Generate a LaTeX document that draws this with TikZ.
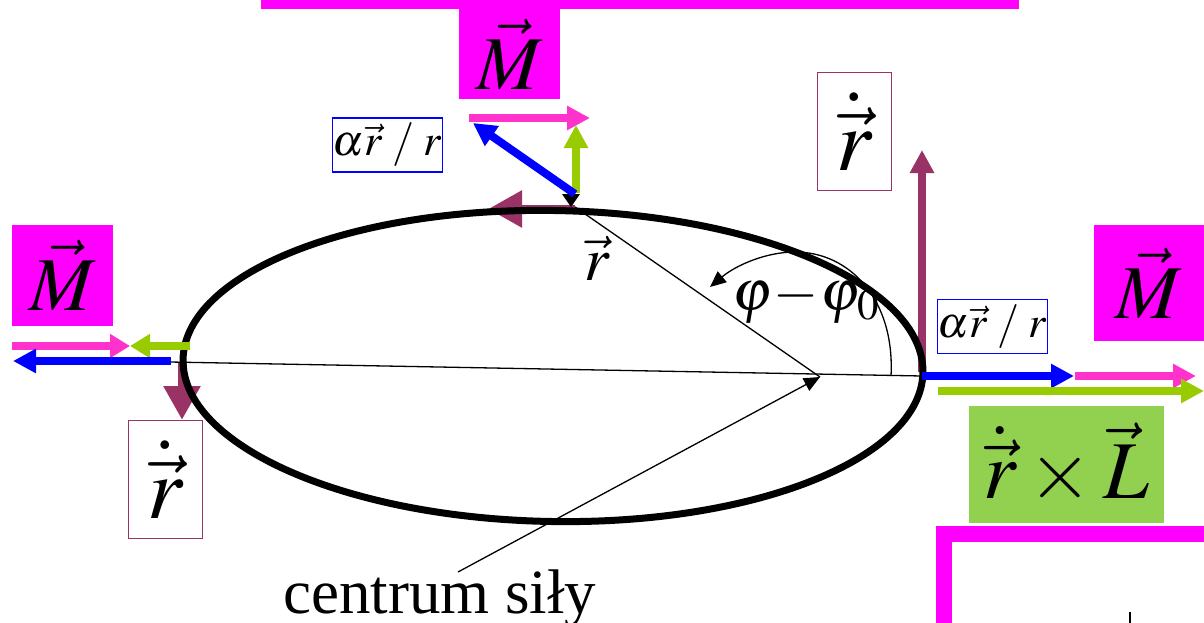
\documentclass[tikz,border=0pt]{standalone}
\usepackage{mathptmx}
\usepackage{fontspec}
\setmainfont{Liberation Serif}
\usetikzlibrary{arrows.meta}
\definecolor{mag}{HTML}{FF00FF}
\definecolor{pinkA}{HTML}{FF33CC}
\definecolor{greenA}{HTML}{99CC00}
\definecolor{maroonA}{HTML}{993366}
\definecolor{blueA}{HTML}{0000FF}
\definecolor{greenBox}{HTML}{92D050}
\tikzset{
  vecarr/.style={line width=8pt, -{Triangle[length=23pt,width=23pt]}},
  bigarr/.style={line width=9pt, -{Triangle[length=34pt,width=35pt]}},
  thinline/.style={line width=1.3pt},
  pointer/.style={line width=1.3pt, -{Triangle[length=16pt,width=14pt]}},
  magbox/.style={fill=mag, inner sep=0pt, font=\fontsize{76}{80}\selectfont},
  rbox/.style={draw=maroonA, line width=1.5pt, fill=white, inner sep=0pt,
    minimum width=74pt, minimum height=118pt, font=\fontsize{88}{90}\selectfont},
  abox/.style={draw=blueA, line width=1.5pt, fill=white, inner sep=0pt,
    minimum width=110pt, minimum height=54pt, font=\fontsize{44}{46}\selectfont},
}
\begin{document}
\begin{tikzpicture}[x=1pt,y=-1pt]
\useasboundingbox (0,0) rectangle (1204,623);

% magenta frames
\fill[mag] (261,-2) rectangle (1019,9);
\fill[mag] (936,526) rectangle (1210,542);
\fill[mag] (936,526) rectangle (952,630);
\draw[line width=2pt] (1130,612) -- (1130,625);

% key points
\coordinate (O) at (820,377);
\coordinate (T) at (575,207);
\coordinate (Lp) at (182,362);
\coordinate (Rp) at (922,376);

% boxes
\node[magbox, minimum width=101pt, minimum height=90pt] (Mtop) at (509.5,54) {$\vec{M}$};
\node[magbox, minimum width=101pt, minimum height=101pt] (Mleft) at (62.5,275.5) {$\vec{M}$};
\node[magbox, minimum width=110pt, minimum height=116pt] (Mright) at (1149,283) {$\vec{M}$};
\node[rbox] (rdL) at (165.5,479.5) {$\dot{\vec{r}}$};
\node[rbox] (rdR) at (854.5,131.5) {$\dot{\vec{r}}$};
\node[abox] (aT) at (387.5,145) {$\alpha\vec{r}\;/\;r$};
\node[abox] (aR) at (992.5,326.5) {$\alpha\vec{r}\;/\;r$};
\node[fill=greenBox, inner sep=0pt, minimum width=195pt, minimum height=117pt,
  font=\fontsize{82}{84}\selectfont] (rxL) at (1066.5,464.5) {$\dot{\vec{r}}\times\vec{L}$};

% maroon velocity arrows (under the orbit)
\coordinate (Tm) at (488,209);
\coordinate (Lm) at (182,420);
\coordinate (Rm) at (922,150);
\draw[bigarr, maroonA] (T |- Tm) -- (Tm);
\draw[bigarr, maroonA] (Lp) -- (Lm);
\draw[vecarr, maroonA] (922,372) -- (Rm);

% orbit
\draw[line width=7pt, rotate around={-1:(553,366)}] (553,366) ellipse [x radius=370, y radius=155.5];

% thin lines
\draw[thinline] (170,362) -- (Rp);
\draw[thinline] (O) -- (T);
\fill (562,194) -- (580,194) -- (571,207) -- cycle;

% angle arc
\coordinate (A1) at (891,376);
\coordinate (A2) at (710,287);
\draw[pointer] (A1) .. controls (895,300) and (850,252) .. (795,252)
  .. controls (765,252) and (735,266) .. (A2);
\node[font=\fontsize{58}{60}\selectfont] (phi) at (806,300) {$\varphi\!-\!\varphi_{\kern2pt 0}$};

% r label
\node[font=\fontsize{62}{64}\selectfont, anchor=base] (rlab) at (597,280) {$\vec{r}$};

% centrum
\node[font=\fontsize{63}{66}\selectfont, anchor=base west, inner sep=0pt] (cs) at (283,613) {centrum siły};
\coordinate (cs0) at (458,572);
\draw[pointer] (cs0) -- (O);

% top arrows
\coordinate (tp1) at (469,118);
\coordinate (tp2) at (590,118);
\draw[vecarr, pinkA] (tp1) -- (tp2);
\draw[vecarr, greenA] (576,193) -- (576,125);
\draw[vecarr, blueA] (575,194) -- (473,123);

% left arrows
\coordinate (lm) at (130,346);
\draw[line width=8pt, pinkA, -{Triangle[length=20pt,width=23pt]}] (12,346) -- (lm);
\draw[line width=8pt, greenA, -{Triangle[length=20pt,width=23pt]}] (190,346) -- (lm);
\draw[vecarr, blueA] (171,361) -- (13,361);

% right arrows
\coordinate (rb) at (1074,376);
\draw[vecarr, blueA] (Rp) -- (rb);
\draw[vecarr, pinkA] (1075,376) -- (1196,376);
\draw[vecarr, greenA] (938,391) -- (1204,391);
\end{tikzpicture}
\end{document}
